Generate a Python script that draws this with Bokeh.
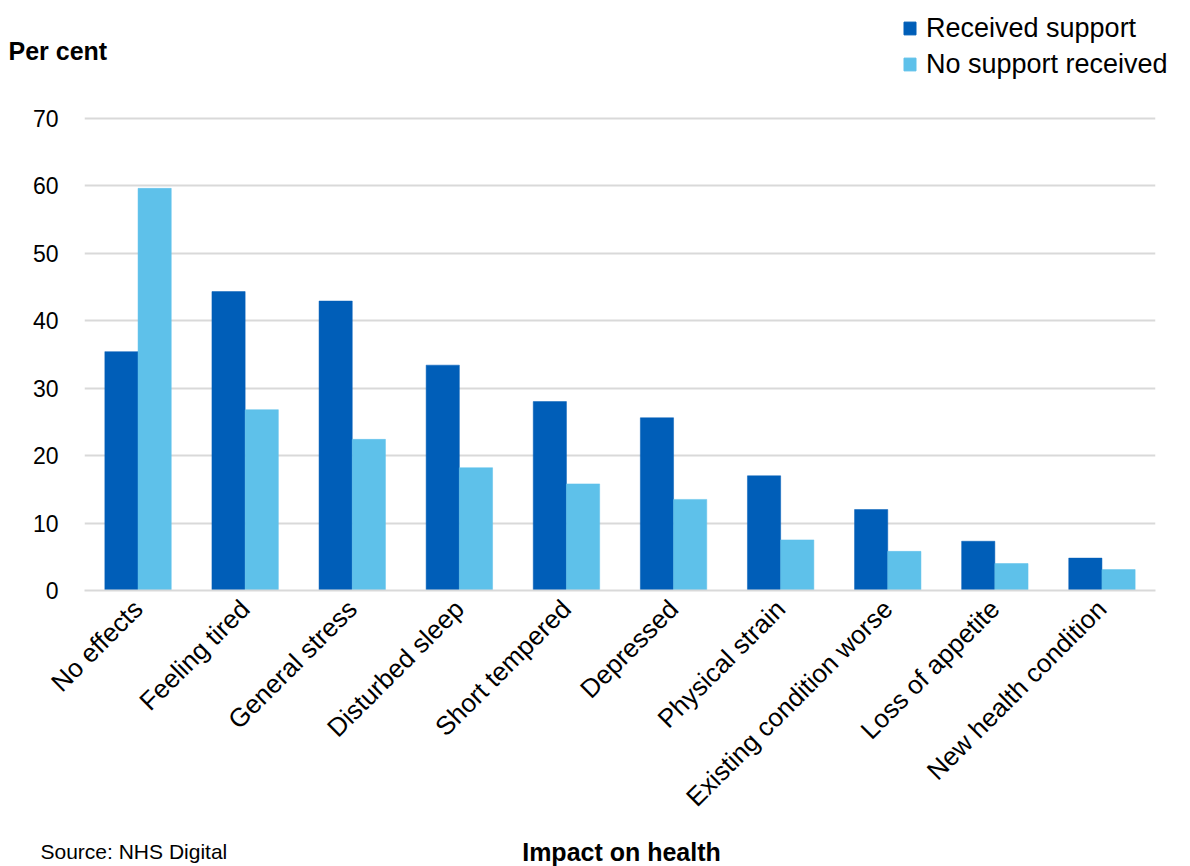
from bokeh.plotting import figure
from bokeh.layouts import column
from bokeh.models import ColumnDataSource, FactorRange, Range1d, Legend, LegendItem, Label
from bokeh.transform import dodge
from bokeh.embed import file_html
from bokeh.resources import INLINE
from math import pi

# Impact of caring on health, by whether support was received (per cent)
categories = ["No effects", "Feeling tired", "General stress", "Disturbed sleep",
              "Short tempered", "Depressed", "Physical strain",
              "Existing condition worse", "Loss of appetite", "New health condition"]
received_support = [35.4, 44.3, 42.9, 33.4, 28.0, 25.6, 17.0, 12.0, 7.3, 4.8]
no_support = [59.6, 26.8, 22.4, 18.2, 15.8, 13.5, 7.5, 5.8, 4.0, 3.1]
y_ticks = [0, 10, 20, 30, 40, 50, 60, 70]
series_names = ["Received support", "No support received"]

DARK = "#005EB8"
LIGHT = "#5EC1EA"
GRID = "#D9D9D9"
FONT = "Liberation Sans"
W = 1190

source = ColumnDataSource(dict(cat=categories, received=received_support, none=no_support))


def strip(height, x_range):
    """A plain full-width strip (no axes) for captions above and below the chart."""
    f = figure(width=W, height=height, output_backend="svg", toolbar_location=None,
               x_range=x_range, y_range=Range1d(0, height),
               min_border=0, outline_line_color=None, frame_align=False)
    f.axis.visible = False
    f.grid.visible = False
    return f


# ---- header: y-axis caption and legend ----
head = strip(100, FactorRange(*categories, range_padding=0))
head.add_layout(Label(x=8, y=50, x_units="screen", y_units="screen", text="Per cent",
                      text_font=FONT, text_font_size="25px", text_font_style="bold",
                      text_baseline="middle", text_color="black"))
# hidden copies of the two series supply the legend swatches
key1 = head.vbar(x="cat", top="received", width=0.3, source=source,
                 fill_color=DARK, line_color=DARK, visible=False)
key2 = head.vbar(x="cat", top="none", width=0.3, source=source,
                 fill_color=LIGHT, line_color=LIGHT, visible=False)
legend = Legend(items=[LegendItem(label=series_names[0], renderers=[key1]),
                       LegendItem(label=series_names[1], renderers=[key2])],
                location=(902, 20), orientation="vertical",
                label_text_font=FONT, label_text_font_size="27px",
                label_text_color="black", glyph_width=15, glyph_height=16,
                label_height=32, spacing=4, padding=0, margin=0,
                label_standoff=9, border_line_color=None, background_fill_alpha=0,
                inactive_fill_alpha=0)
head.add_layout(legend, "center")

# ---- main chart ----
p = figure(width=W, height=730, output_backend="svg", toolbar_location=None,
           x_range=FactorRange(*categories, range_padding=0),
           y_range=Range1d(0, 70.4),
           min_border_left=84, min_border_right=35, min_border_top=15, min_border_bottom=240)
p.outline_line_color = None

p.vbar(x=dodge("cat", -0.155, range=p.x_range), top="received", width=0.31,
       source=source, fill_color=DARK, line_color=DARK, line_width=0.5)
p.vbar(x=dodge("cat", 0.155, range=p.x_range), top="none", width=0.31,
       source=source, fill_color=LIGHT, line_color=LIGHT, line_width=0.5)

p.yaxis.ticker = y_ticks
p.yaxis.axis_line_color = None
p.yaxis.major_tick_line_color = None
p.yaxis.minor_tick_line_color = None
p.yaxis.major_label_standoff = 20
p.yaxis.major_label_text_font = FONT
p.yaxis.major_label_text_font_size = "23px"
p.yaxis.major_label_text_color = "black"

p.xaxis.axis_line_color = GRID
p.xaxis.axis_line_width = 2
p.xaxis.major_tick_line_color = None
p.xaxis.minor_tick_line_color = None
p.xaxis.major_label_orientation = pi / 4
p.xaxis.major_label_standoff = 8
p.xaxis.major_label_text_font = FONT
p.xaxis.major_label_text_font_size = "26px"
p.xaxis.major_label_text_color = "black"

p.xgrid.grid_line_color = None
p.ygrid.grid_line_color = GRID
p.ygrid.grid_line_width = 2

# ---- footer: source note and x-axis caption ----
foot = strip(36, Range1d(0, W))
foot.add_layout(Label(x=40, y=15, text="Source: NHS  Digital", text_font=FONT,
                      text_font_size="21px", text_baseline="middle", text_color="black"))
foot.add_layout(Label(x=621, y=15, text="Impact on health", text_font=FONT,
                      text_font_size="25px", text_font_style="bold", text_align="center",
                      text_baseline="middle", text_color="black"))

layout = column(head, p, foot, spacing=0)
open("out.html", "w").write(file_html(layout, INLINE))
